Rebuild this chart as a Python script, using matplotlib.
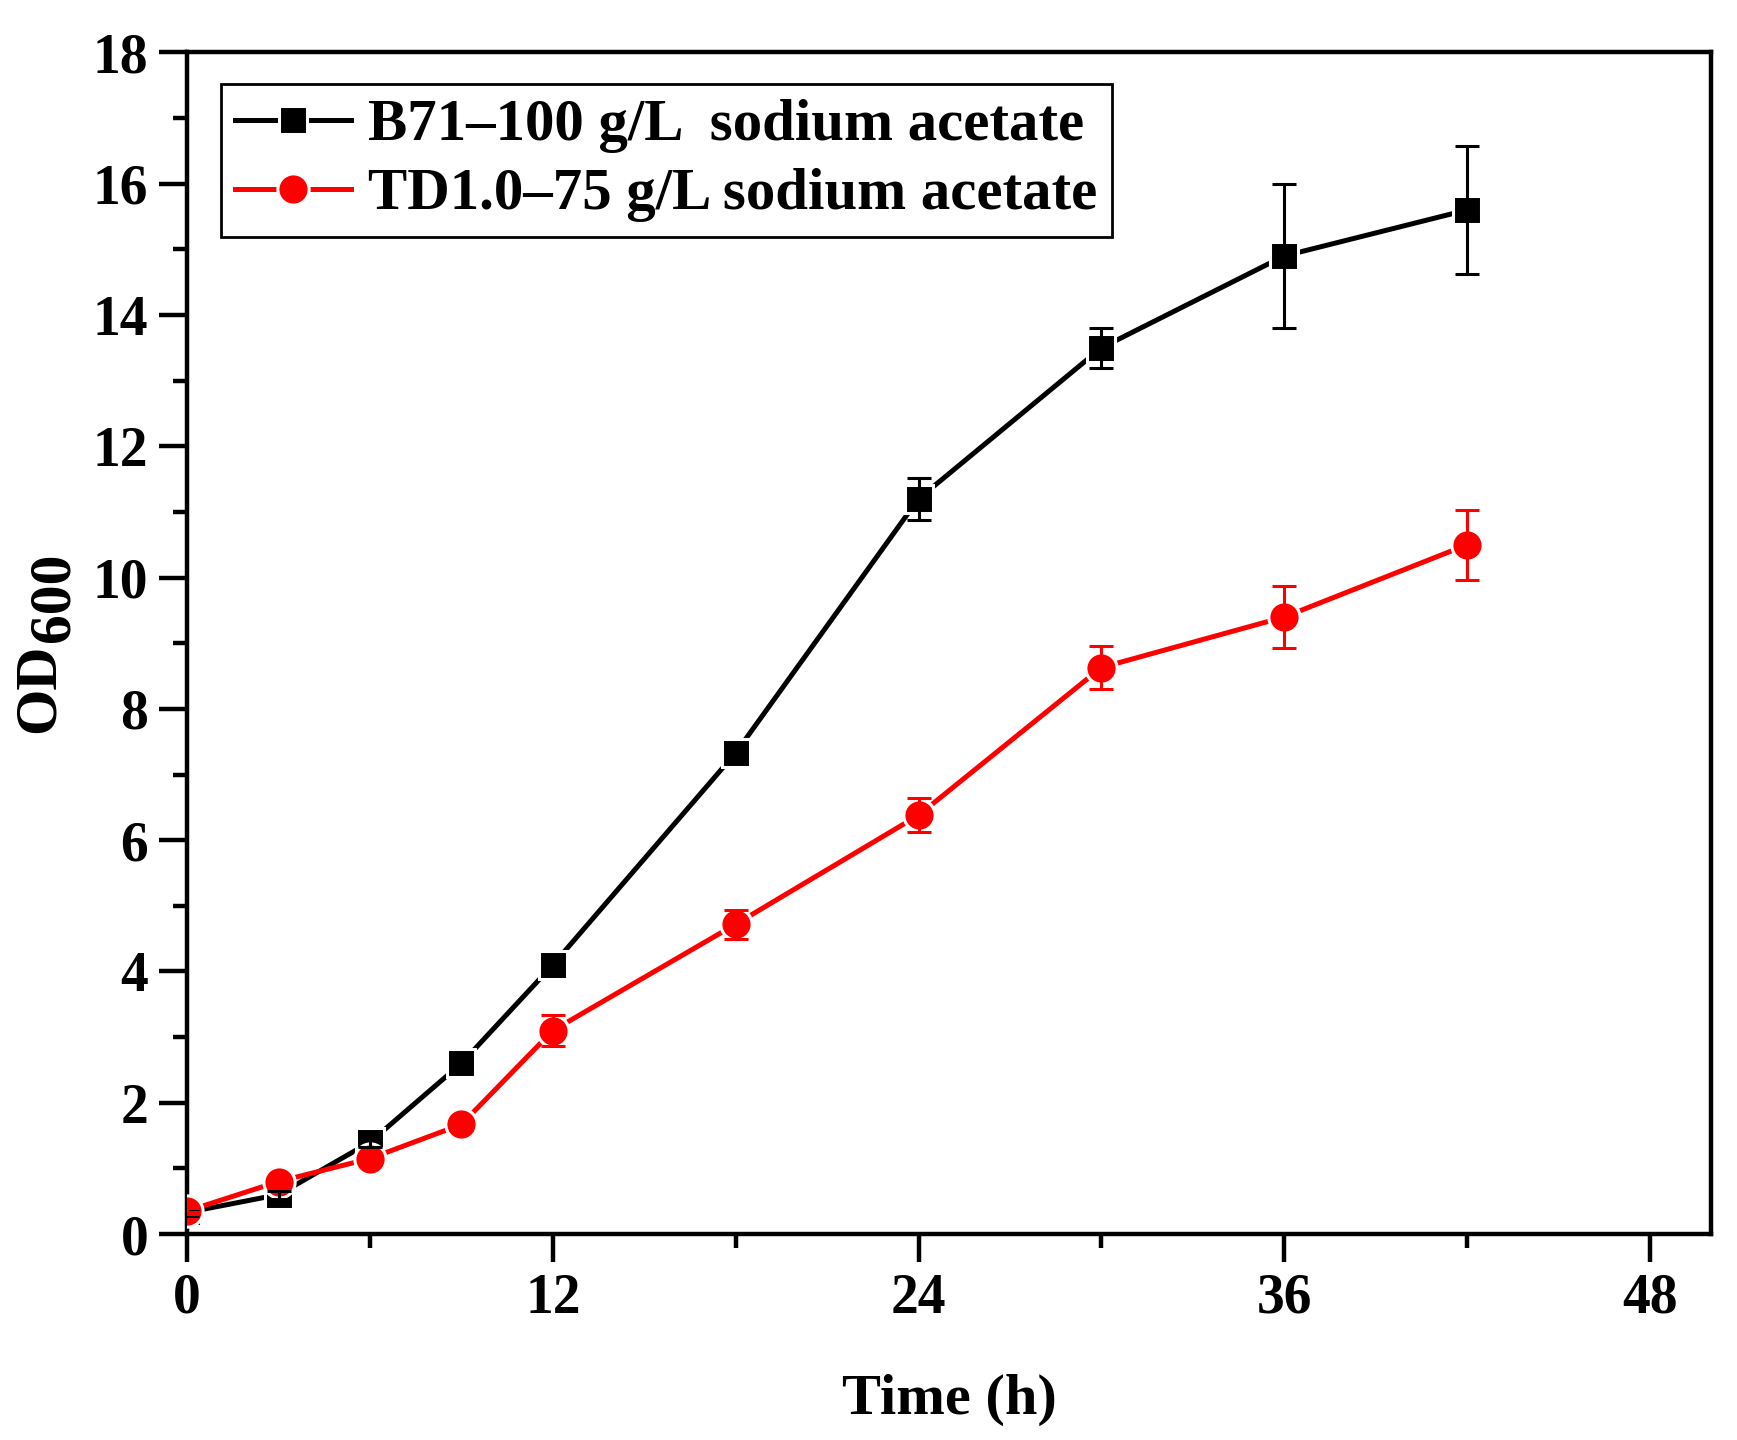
import matplotlib.pyplot as plt
from matplotlib.ticker import MultipleLocator

plt.rcParams['font.family'] = ['Liberation Serif', 'DejaVu Serif']
plt.rcParams['font.weight'] = 'bold'

time_h = [0, 3, 6, 9, 12, 18, 24, 30, 36, 42]
b71_od = [0.33, 0.6, 1.4, 2.6, 4.1, 7.33, 11.2, 13.5, 14.9, 15.6]
b71_err = [0.05, 0.06, 0.08, 0.08, 0.1, 0.1, 0.32, 0.3, 1.1, 0.98]
td_od = [0.35, 0.8, 1.15, 1.67, 3.1, 4.72, 6.38, 8.63, 9.4, 10.5]
td_err = [0.05, 0.06, 0.06, 0.08, 0.24, 0.22, 0.26, 0.33, 0.47, 0.53]

fig = plt.figure(figsize=(17.37, 14.4), dpi=100)
ax = fig.add_axes([0.1077, 0.143, 0.8773, 0.8206])

series = [
    (b71_od, b71_err, 'black', 's', 'B71\u2013100 g/L  sodium acetate', 20.5),
    (td_od, td_err, '#ff0000', 'o', 'TD1.0\u201375 g/L sodium acetate', 22.5),
]
for od, err, col, mk, lab, ms in series:
    ax.plot(time_h, od, color=col, lw=3.6, marker=mk, markersize=ms,
            markeredgecolor='white', markeredgewidth=2.2, label=lab, zorder=3)
    ax.errorbar(time_h, od, yerr=err, fmt='none', ecolor=col, elinewidth=2.2,
                capsize=8.5, capthick=2.2, zorder=4)

ax.set_xlim(0, 50)
ax.set_ylim(0, 18)
ax.xaxis.set_major_locator(MultipleLocator(12))
ax.xaxis.set_minor_locator(MultipleLocator(6))
ax.yaxis.set_major_locator(MultipleLocator(2))
ax.yaxis.set_minor_locator(MultipleLocator(1))
ax.tick_params(which='major', direction='out', length=20, width=3.2, labelsize=40, pad=8)
ax.tick_params(which='minor', direction='out', length=10, width=3.2)
ax.tick_params(top=False, right=False)
for sp in ax.spines.values():
    sp.set_linewidth(3.2)

ax.set_xlabel('Time (h)', fontsize=42, fontweight='bold', labelpad=35)
ylab = ax.set_ylabel('OD', fontsize=43, fontweight='bold')
ax.yaxis.set_label_coords(-0.079, 0.462)
ax.annotate('600', xy=(1, 1), xycoords=ylab, xytext=(11, 1),
            textcoords='offset points', rotation=90, ha='right', va='bottom',
            fontsize=43, fontweight='bold', annotation_clip=False)

leg = ax.legend(loc='upper left', bbox_to_anchor=(0.022, 0.973), fontsize=42.4,
                frameon=True, fancybox=False, edgecolor='black', framealpha=1,
                handlelength=1.96, handletextpad=0.3, borderpad=0.25,
                labelspacing=0.25, borderaxespad=0.0)
leg.get_frame().set_linewidth(2)
for t in leg.get_texts():
    t.set_fontweight('bold')

fig.savefig('out.png', dpi=100)
